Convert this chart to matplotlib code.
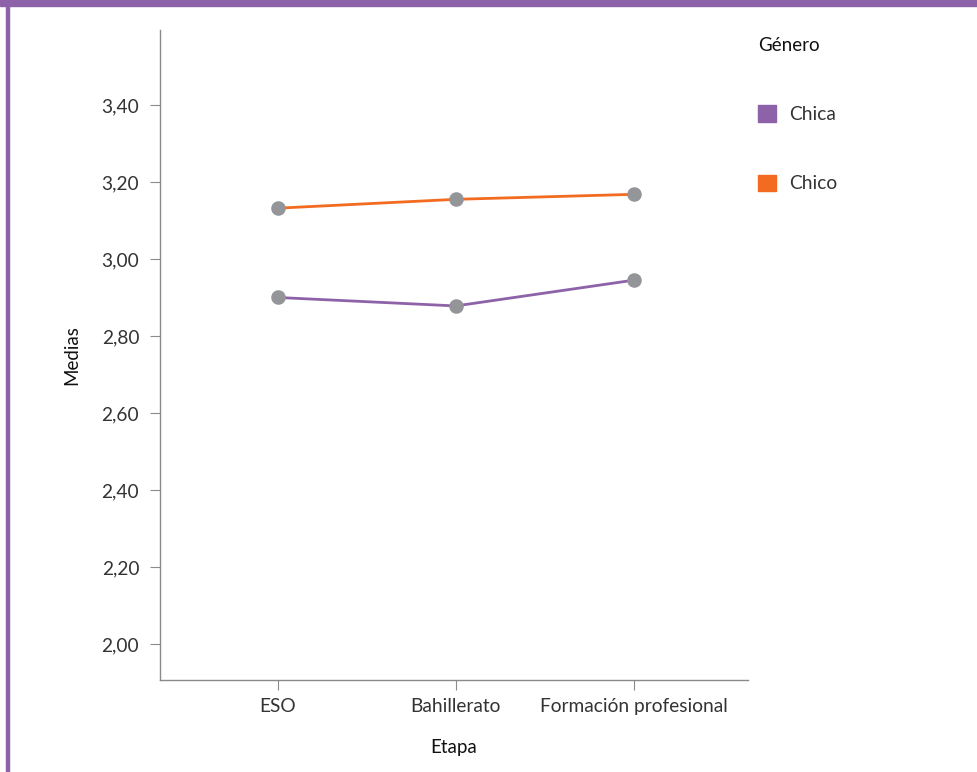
import matplotlib.pyplot as plt
from matplotlib.patches import Patch, Rectangle

etapas = ['ESO', 'Bahillerato', 'Formación profesional']
series = ['Chica', 'Chico']
chica = [2.901, 2.879, 2.946]
chico = [3.133, 3.156, 3.169]
yticks = [2.0, 2.2, 2.4, 2.6, 2.8, 3.0, 3.2, 3.4]

purple = '#8e62a9'
orange = '#f26b21'
grey = '#939598'
text_c = '#333333'

plt.rcParams['font.family'] = ['Lato', 'DejaVu Sans']

fig = plt.figure(figsize=(9.78, 7.72), dpi=100)
ax = fig.add_axes([160/978, 92/772, 588/978, 650/772])

x = range(len(etapas))
for vals, col in [(chica, purple), (chico, orange)]:
    ax.plot(x, vals, color=col, lw=2, zorder=2)
    ax.scatter(x, vals, s=110, color=grey, zorder=3, linewidths=0)

ax.set_xlim(-0.66, 2.64)
ax.set_ylim(1.907, 3.596)
ax.set_xticks(list(x))
ax.set_xticklabels(etapas)
ax.set_yticks(yticks)
ax.set_yticklabels([f'{v:.2f}'.replace('.', ',') for v in yticks])
for s in ['top', 'right']:
    ax.spines[s].set_visible(False)
for s in ['left', 'bottom']:
    ax.spines[s].set_color('#8a8a8a')
    ax.spines[s].set_linewidth(1)
ax.tick_params(colors='#8a8a8a', labelcolor=text_c, labelsize=13.8, length=7)
ax.tick_params(axis='y', pad=8)
ax.tick_params(axis='x', pad=6)
ax.set_xlabel('Etapa', fontsize=13.5, color='#111111', labelpad=17)
ax.set_ylabel('Medias', fontsize=13.5, color='#111111', labelpad=15)

handles = [Patch(color=purple, label=series[0]), Patch(color=orange, label=series[1])]
leg = fig.legend(handles=handles, title='Género', loc='upper left',
                 bbox_to_anchor=(758/978, 1 - 37/772), frameon=False,
                 fontsize=13.8, title_fontsize=13.5, labelspacing=2.68,
                 handlelength=0.95, handleheight=0.95, handletextpad=0.65,
                 borderaxespad=0, borderpad=0)
leg._legend_box.align = 'left'
leg._legend_box.sep = 37
leg.get_title().set_color('#111111')
for t in leg.get_texts():
    t.set_color(text_c)

# purple frame
fig.patches.append(Rectangle((0, 1 - 6/772), 1, 6/772, transform=fig.transFigure,
                             color=purple, zorder=10))
fig.patches.append(Rectangle((6/978, 0), 3/978, 1, transform=fig.transFigure,
                             color=purple, zorder=10))

fig.savefig('out.png', dpi=100)
